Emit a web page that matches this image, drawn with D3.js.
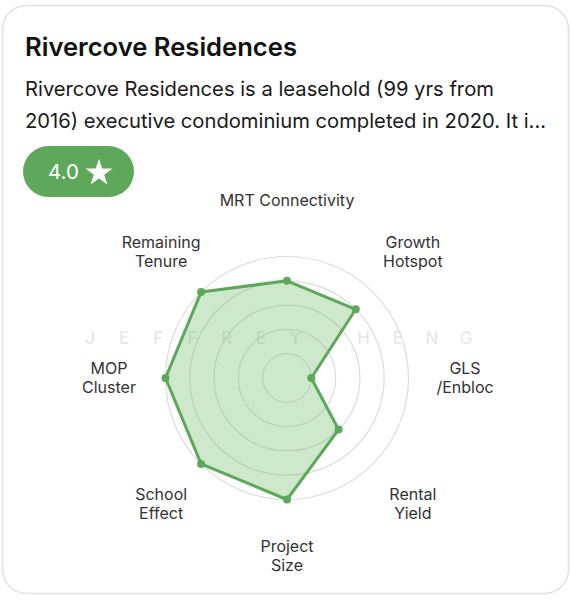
<!DOCTYPE html>
<html>
<head>
<meta charset="utf-8">
<script src="https://cdn.jsdelivr.net/npm/d3@7"></script>
<style>
  html, body { margin: 0; padding: 0; background: #fff; }
  body { font-family: Inter, "Noto Sans", sans-serif; }
  svg { display: block; }
</style>
</head>
<body>
<div id="card"></div>
<script>
(function () {
  // radar axes, clockwise from the top
  const axes = [
    ["MRT Connectivity"],
    ["Growth", "Hotspot"],
    ["GLS", "/Enbloc"],
    ["Rental", "Yield"],
    ["Project", "Size"],
    ["School", "Effect"],
    ["MOP", "Cluster"],
    ["Remaining", "Tenure"],
  ];
  const scores = [4, 4, 1, 3, 5, 5, 5, 5];
  const ringLevels = [1, 2, 3, 4, 5];
  const maxScore = 5;

  const title = "Rivercove Residences";
  const description = [
    "Rivercove Residences is a leasehold (99 yrs from",
    "2016) executive condominium completed in 2020. It i...",
  ];
  const rating = "4.0";
  const watermark = "JEFFREY HENG";

  const W = 571;
  const H = 600;
  const cx = 287;
  const cy = 378;
  const radius = 121.5;
  const labelRadius = 178;

  const green = "#5ea85b";

  const svg = d3
    .select("#card")
    .append("svg")
    .attr("width", W)
    .attr("height", H);

  // card frame
  svg
    .append("rect")
    .attr("x", 2.5)
    .attr("y", 5.5)
    .attr("width", 566)
    .attr("height", 588)
    .attr("rx", 24)
    .attr("fill", "#fff")
    .attr("stroke", "#e2e2e2")
    .attr("stroke-width", 1.6);

  // header text
  svg
    .append("text")
    .attr("x", 25)
    .attr("y", 56)
    .attr("font-size", 25.6)
    .attr("font-weight", 600)
    .attr("fill", "#111")
    .text(title);

  svg
    .selectAll("text.desc")
    .data(description)
    .join("text")
    .attr("class", "desc")
    .attr("x", 25)
    .attr("y", (d, i) => 96 + i * 32)
    .attr("font-size", 20.2)
    .attr("fill", "#1a1a1a")
    .text((d) => d);

  // rating pill
  const pill = svg.append("g").attr("transform", "translate(23,146)");
  pill
    .append("rect")
    .attr("width", 111)
    .attr("height", 51)
    .attr("rx", 25.5)
    .attr("fill", green);
  pill
    .append("text")
    .attr("x", 25)
    .attr("y", 33)
    .attr("font-size", 20.5)
    .attr("fill", "#fff")
    .text(rating);
  pill
    .append("path")
    .attr("d", d3.symbol(d3.symbolStar, 230)())
    .attr("transform", "translate(76,27)")
    .attr("fill", "#fff");

  // radar
  const angle = d3
    .scaleLinear()
    .domain([0, axes.length])
    .range([0, 2 * Math.PI]);
  const r = d3.scaleLinear().domain([0, maxScore]).range([0, radius]);

  const g = svg.append("g").attr("transform", `translate(${cx},${cy})`);

  // faint watermark behind the chart
  const wmX = d3
    .scalePoint()
    .domain(d3.range(watermark.length))
    .range([90 - cx, 466 - cx]);
  g.append("g")
    .selectAll("text")
    .data(watermark.split(""))
    .join("text")
    .attr("x", (d, i) => wmX(i))
    .attr("y", -34)
    .attr("text-anchor", "middle")
    .attr("font-size", 17)
    .attr("fill", "#e6e6e6")
    .text((d) => d);

  g.selectAll("circle.ring")
    .data(ringLevels)
    .join("circle")
    .attr("class", "ring")
    .attr("r", (d) => r(d))
    .attr("fill", "none")
    .attr("stroke", "#dcdcdc")
    .attr("stroke-width", 1.2);

  const line = d3
    .lineRadial()
    .angle((d, i) => angle(i))
    .radius((d) => r(d))
    .curve(d3.curveLinearClosed);

  g.append("path")
    .datum(scores)
    .attr("d", line)
    .attr("fill", "rgba(120, 190, 112, 0.36)")
    .attr("stroke", green)
    .attr("stroke-width", 3)
    .attr("stroke-linejoin", "round");

  g.selectAll("circle.dot")
    .data(scores)
    .join("circle")
    .attr("class", "dot")
    .attr("cx", (d, i) => r(d) * Math.sin(angle(i)))
    .attr("cy", (d, i) => -r(d) * Math.cos(angle(i)))
    .attr("r", 4)
    .attr("fill", green);

  // axis labels
  const lineHeight = 19.5;
  const labels = g
    .selectAll("text.axis-label")
    .data(axes)
    .join("text")
    .attr("class", "axis-label")
    .attr("text-anchor", "middle")
    .attr("font-size", 16)
    .attr("fill", "#333")
    .attr("transform", (d, i) => {
      const x = labelRadius * Math.sin(angle(i));
      const y = -labelRadius * Math.cos(angle(i));
      return `translate(${x},${y})`;
    });
  labels
    .selectAll("tspan")
    .data((d) => d.map((t, j) => ({ t, j, n: d.length })))
    .join("tspan")
    .attr("x", 0)
    .attr("y", (d) => (d.j - (d.n - 1) / 2) * lineHeight + 5.5)
    .text((d) => d.t);
})();
</script>
</body>
</html>
